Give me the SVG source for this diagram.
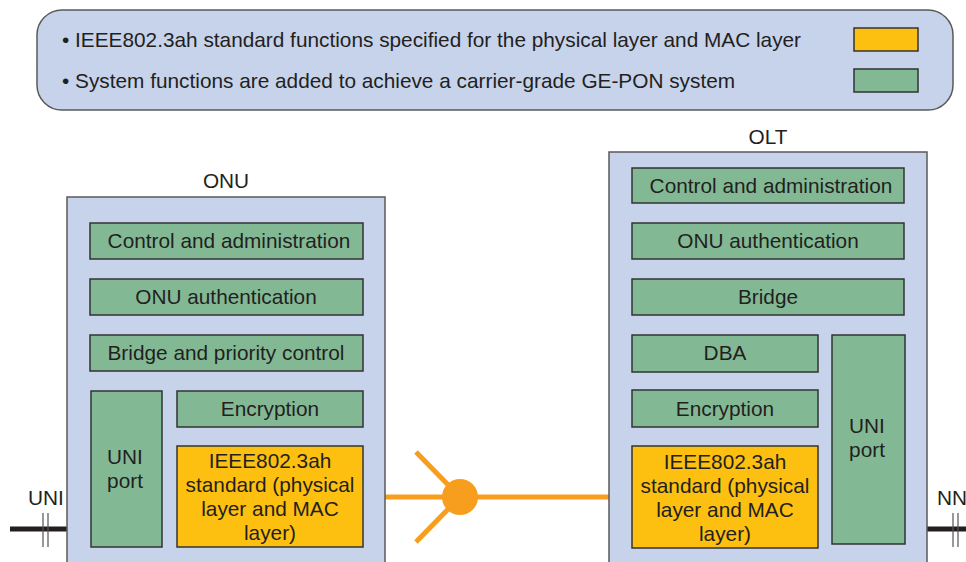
<svg xmlns="http://www.w3.org/2000/svg" width="966" height="562" viewBox="0 0 966 562">
  <style>
    text { font-family: "Liberation Sans", Arial, sans-serif; fill: #231f20; font-size: 20.8px; }
    .mid { text-anchor: middle; }
    .panel { fill: #c6d3eb; stroke: #5a5a5a; stroke-width: 1.5; }
    .sys { fill: #82b994; stroke: #333; stroke-width: 1.5; }
    .std { fill: #fdc010; stroke: #333; stroke-width: 1.5; }
    .fiber { stroke: #f79e1e; stroke-width: 5; fill: none; }
    .wire { stroke: #231f20; stroke-width: 5; }
    .tick { stroke: #555; stroke-width: 1.2; }
  </style>

  <!-- Legend -->
  <g id="legend">
    <rect class="panel" x="37" y="10" width="916" height="100" rx="25" ry="25"/>
    <text x="62" y="47">• IEEE802.3ah standard functions specified for the physical layer and MAC layer</text>
    <text x="62" y="88">• System functions are added to achieve a carrier-grade GE-PON system</text>
    <rect class="std" x="854" y="28" width="64" height="23"/>
    <rect class="sys" x="854" y="69" width="64" height="23"/>
  </g>

  <!-- Connectors -->
  <g id="connectors">
    <line class="wire" x1="10" y1="529" x2="91" y2="529"/>
    <line class="tick" x1="43" y1="513" x2="43" y2="547"/>
    <line class="tick" x1="48" y1="513" x2="48" y2="547"/>
    <line class="wire" x1="905" y1="529" x2="966" y2="529"/>
    <line class="tick" x1="953" y1="513" x2="953" y2="547"/>
    <line class="tick" x1="958" y1="513" x2="958" y2="547"/>
    <line class="fiber" x1="363" y1="497" x2="633" y2="497"/>
    <line class="fiber" x1="416" y1="452" x2="460" y2="497"/>
    <line class="fiber" x1="416" y1="542" x2="460" y2="497"/>
    <circle cx="460" cy="497" r="18" fill="#f79e1e"/>
    <text x="28" y="505">UNI</text>
    <text x="937" y="505">NNI</text>
  </g>

  <!-- ONU -->
  <g id="onu">
    <text class="mid" x="226" y="188">ONU</text>
    <rect class="panel" x="67" y="197" width="318" height="380"/>
    <g id="onu-control">
      <rect class="sys" x="90" y="223" width="273" height="36"/>
      <text class="mid" x="229" y="248">Control and administration</text>
    </g>
    <g id="onu-auth">
      <rect class="sys" x="90" y="279" width="273" height="36"/>
      <text class="mid" x="226" y="304">ONU authentication</text>
    </g>
    <g id="onu-bridge">
      <rect class="sys" x="90" y="335" width="273" height="36"/>
      <text class="mid" x="226" y="360">Bridge and priority control</text>
    </g>
    <g id="onu-uni">
      <rect class="sys" x="91" y="391" width="71" height="156"/>
      <text class="mid" x="125" y="464">UNI</text>
      <text class="mid" x="125" y="488">port</text>
    </g>
    <g id="onu-encryption">
      <rect class="sys" x="177" y="391" width="186" height="36"/>
      <text class="mid" x="270" y="416">Encryption</text>
    </g>
    <g id="onu-std">
      <rect class="std" x="177" y="446" width="186" height="101"/>
      <text class="mid" x="270" y="468">IEEE802.3ah</text>
      <text class="mid" x="270" y="492">standard (physical</text>
      <text class="mid" x="270" y="516">layer and MAC</text>
      <text class="mid" x="270" y="540">layer)</text>
    </g>
  </g>

  <!-- OLT -->
  <g id="olt">
    <text class="mid" x="768" y="144">OLT</text>
    <rect class="panel" x="609" y="152" width="318" height="425"/>
    <g id="olt-control">
      <rect class="sys" x="632" y="168" width="272" height="35"/>
      <text class="mid" x="771" y="193">Control and administration</text>
    </g>
    <g id="olt-auth">
      <rect class="sys" x="632" y="223" width="272" height="36"/>
      <text class="mid" x="768" y="248">ONU authentication</text>
    </g>
    <g id="olt-bridge">
      <rect class="sys" x="632" y="279" width="272" height="36"/>
      <text class="mid" x="768" y="304">Bridge</text>
    </g>
    <g id="olt-dba">
      <rect class="sys" x="632" y="335" width="186" height="37"/>
      <text class="mid" x="725" y="360">DBA</text>
    </g>
    <g id="olt-encryption">
      <rect class="sys" x="632" y="390" width="186" height="37"/>
      <text class="mid" x="725" y="416">Encryption</text>
    </g>
    <g id="olt-std">
      <rect class="std" x="632" y="446" width="186" height="102"/>
      <text class="mid" x="725" y="469">IEEE802.3ah</text>
      <text class="mid" x="725" y="493">standard (physical</text>
      <text class="mid" x="725" y="517">layer and MAC</text>
      <text class="mid" x="725" y="541">layer)</text>
    </g>
    <g id="olt-uni">
      <rect class="sys" x="832" y="335" width="73" height="209"/>
      <text class="mid" x="867" y="433">UNI</text>
      <text class="mid" x="867" y="457">port</text>
    </g>
  </g>
</svg>
